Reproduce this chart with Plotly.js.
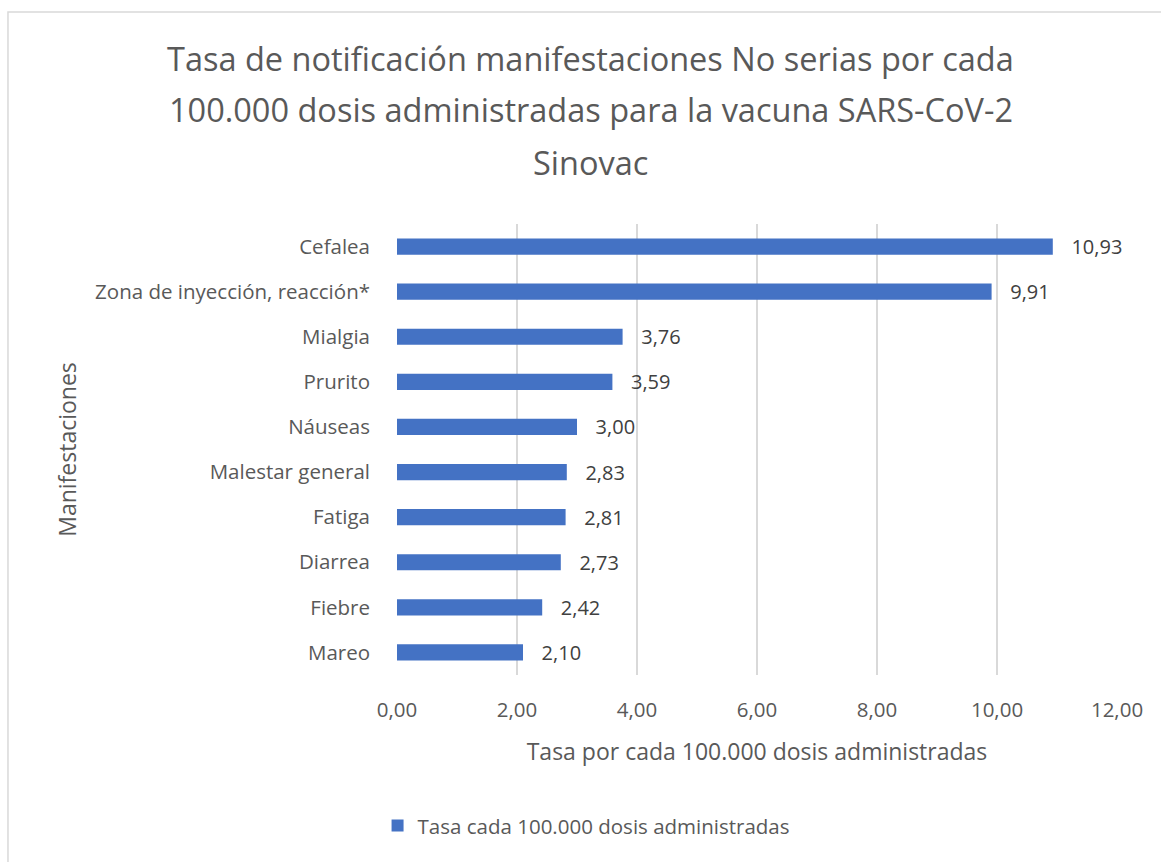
<!DOCTYPE html>
<html>
<head>
<meta charset="utf-8">
<script src="https://cdn.plot.ly/plotly-3.0.1.min.js"></script>
<style>
html,body{margin:0;padding:0;background:#fff;}
#chart{width:1161px;height:862px;}
</style>
</head>
<body>
<div id="chart"></div>
<script>
const categories = ["Cefalea","Zona de inyección, reacción*","Mialgia","Prurito","Náuseas","Malestar general","Fatiga","Diarrea","Fiebre","Mareo"];
const values = [10.93, 9.91, 3.76, 3.59, 3.00, 2.83, 2.81, 2.73, 2.42, 2.10];
const seriesName = "Tasa cada 100.000 dosis administradas";
const titleLines = ["Tasa de notificación manifestaciones No serias por cada","100.000 dosis administradas para la vacuna SARS-CoV-2","Sinovac"];
const xTickVals = [0,2,4,6,8,10,12];

const FONT = "Open Sans, Noto Sans, sans-serif";
const GREY = "#595959";

const trace = {
  type: "bar",
  orientation: "h",
  name: seriesName,
  y: categories,
  x: values,
  width: 0.36,
  marker: {color: "#4472c4"},
  texttemplate: "\u00a0\u00a0\u00a0%{x:.2f}",
  textposition: "outside",
  constraintext: "none",
  cliponaxis: false,
  textfont: {family: FONT, size: 20, color: "#404040"},
  hoverinfo: "x+y",
  showlegend: true
};

const titleYs = [1.368, 1.2528, 1.1353];
const annotations = titleLines.map((t, i) => ({
  text: t, xref: "paper", yref: "paper", x: 0.2694, y: titleYs[i],
  xanchor: "center", yanchor: "middle", showarrow: false,
  font: {family: FONT, size: 32.5, color: GREY}
}));

const layout = {
  width: 1161, height: 862,
  margin: {l: 397, r: 44, t: 224, b: 187},
  paper_bgcolor: "#ffffff", plot_bgcolor: "#ffffff",
  separators: ",.",
  font: {family: FONT, color: GREY},
  showlegend: true,
  legend: {orientation: "h", x: -0.027, y: -0.29, xanchor: "left", yanchor: "top",
    font: {family: FONT, size: 20.5, color: GREY}},
  xaxis: {
    range: [0, 12], tickvals: xTickVals, tickformat: ".2f",
    showgrid: true, gridcolor: "#d9d9d9", gridwidth: 1.5,
    zeroline: false, showline: false, ticks: "",
    ticklabelstandoff: 20,
    tickfont: {family: FONT, size: 20.5, color: GREY},
    title: {text: "Tasa por cada 100.000 dosis administradas", standoff: 22,
      font: {family: FONT, size: 23, color: GREY}}
  },
  yaxis: {
    type: "category", autorange: "reversed",
    showgrid: false, zeroline: false, showline: false, ticks: "",
    ticklabelstandoff: 26,
    tickfont: {family: FONT, size: 20.5, color: GREY},
    title: {text: "Manifestaciones", standoff: 12,
      font: {family: FONT, size: 23, color: GREY}}
  },
  annotations: annotations,
  shapes: [{type: "rect", xref: "paper", yref: "paper",
    x0: -0.5403, x1: 1.07, y0: -0.43, y1: 1.470,
    line: {color: "#d9d9d9", width: 1.5}, fillcolor: "rgba(0,0,0,0)", layer: "below"}]
};

Plotly.newPlot("chart", [trace], layout, {displayModeBar: false, responsive: false});
</script>
</body>
</html>
